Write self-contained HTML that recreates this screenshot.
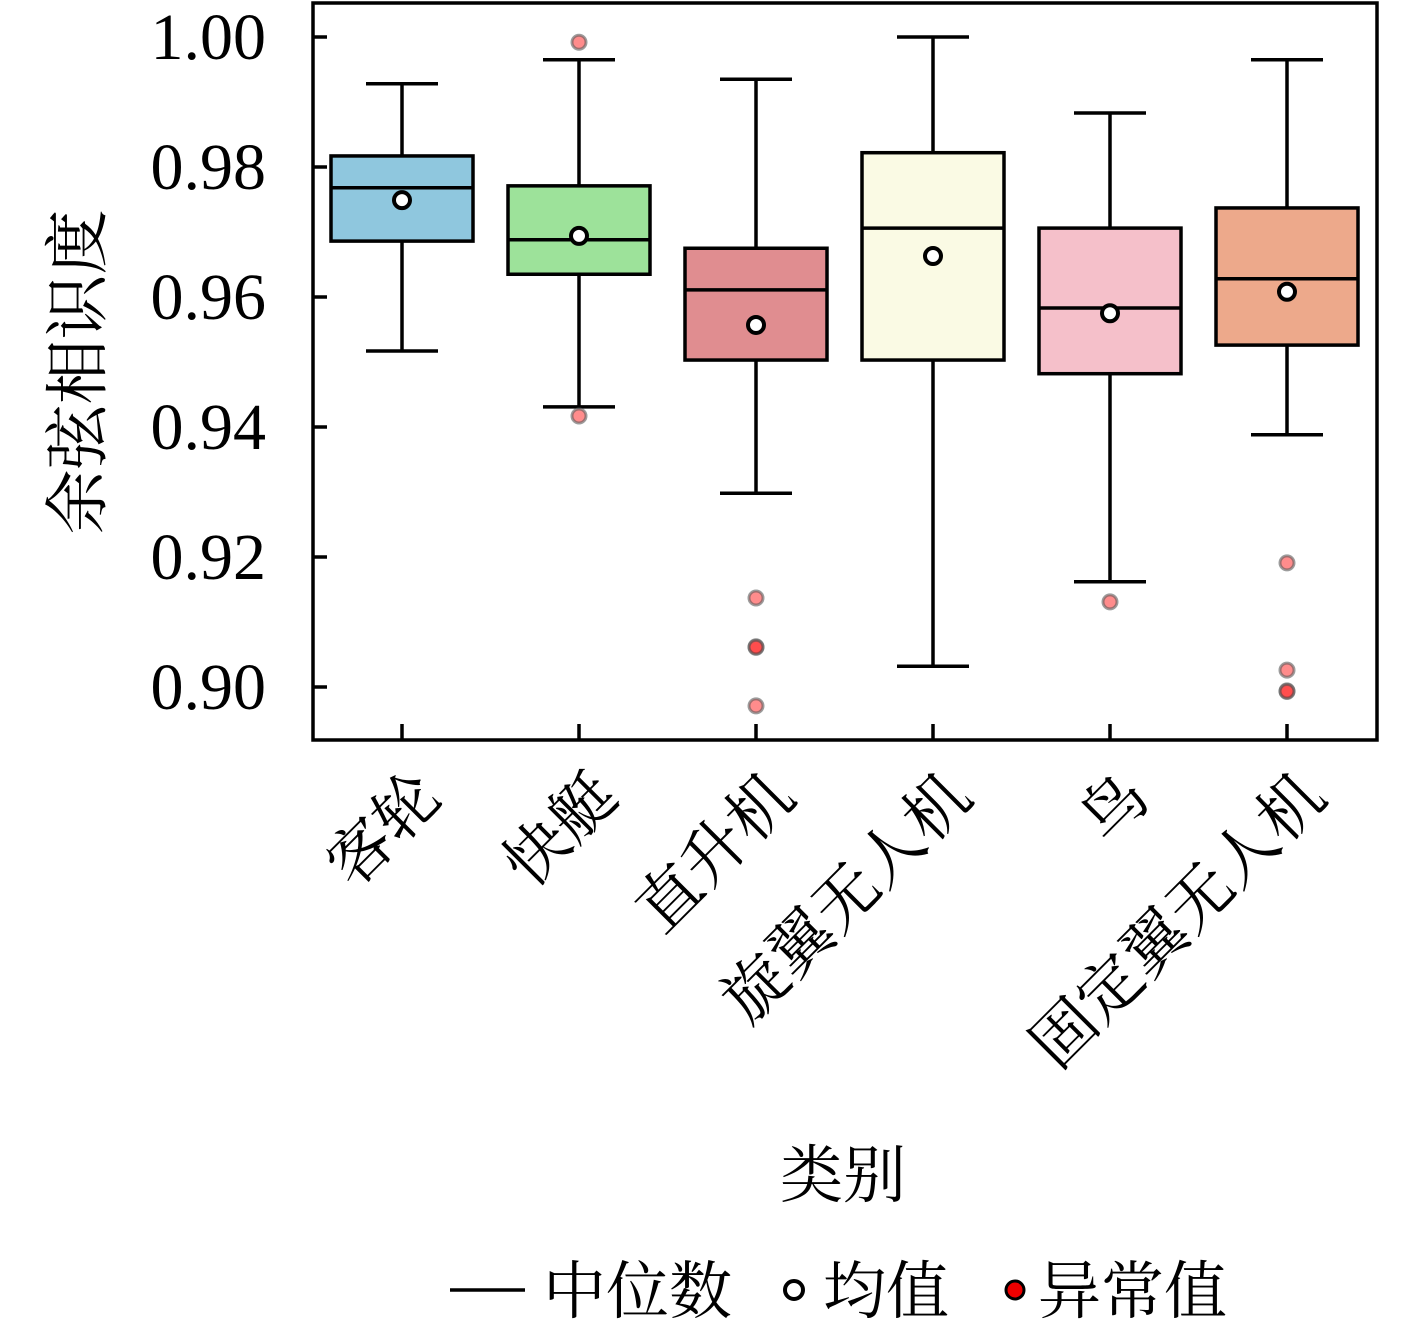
<!DOCTYPE html>
<html><head><meta charset="utf-8"><style>
html,body{margin:0;padding:0;background:#fff;}
svg{display:block;font-family:"Liberation Serif","Noto Serif CJK SC",serif;}
</style></head><body>
<svg id="chart" width="1417" height="1323" viewBox="0 0 1417 1323">
<g id="plot"></g>
</svg>
<script>
const categories=["客轮","快艇","直升机","旋翼无人机","鸟","固定翼无人机"];
const whiskerHigh=[0.9928,0.9965,0.9935,1.0,0.9883,0.9965];
const q3=[0.9817,0.9771,0.9675,0.9822,0.9706,0.9737];
const medians=[0.9768,0.9688,0.9611,0.9706,0.9583,0.9628];
const q1=[0.9686,0.9635,0.9503,0.9503,0.9482,0.9526];
const whiskerLow=[0.9517,0.9431,0.9298,0.9032,0.9162,0.9388];
const means=[0.9749,0.9694,0.9557,0.9663,0.9575,0.9608];
const outliers=[[],[0.9992,0.9417],[0.9137,0.9062,0.9061,0.8971],[],[0.9131],[0.9191,0.9026,0.8994,0.8993]];
const colors=["#8fc7de","#9de29a","#e08d90","#fafae4","#f5c0ca","#eda98b"];
const yTicks=[0.90,0.92,0.94,0.96,0.98,1.00];

const NS="http://www.w3.org/2000/svg";
const g=document.getElementById('plot');
const L=313,R=1377,T=3,B=740;
const y=v=>37+(1-v)*6500;
const x=i=>402+i*177;
const SW=3.5;
function mk(tag,attrs,parent){const e=document.createElementNS(NS,tag);for(const k in attrs)e.setAttribute(k,attrs[k]);(parent||g).appendChild(e);return e;}

let fr=mk('rect',{x:L,y:T,width:R-L,height:B-T,fill:'none',stroke:'#000','stroke-width':SW});



yTicks.forEach(v=>{
  let t=mk('line',{x1:L,x2:L+14,y1:y(v),y2:y(v),stroke:'#000','stroke-width':SW});
  
  
  let tx=mk('text',{x:266,y:y(v)+22,'text-anchor':'end','font-size':66});
  tx.textContent=v.toFixed(2);
  
  
});

categories.forEach((c,i)=>{
  const cx=x(i),hw=71;
  let tk=mk('line',{x1:cx,x2:cx,y1:B,y2:B-16,stroke:'#000','stroke-width':SW});
  
  
  let w1=mk('line',{x1:cx,x2:cx,y1:y(whiskerHigh[i]),y2:y(q3[i]),stroke:'#000','stroke-width':SW});
  
  
  let w2=mk('line',{x1:cx,x2:cx,y1:y(q1[i]),y2:y(whiskerLow[i]),stroke:'#000','stroke-width':SW});
  
  
  let c1=mk('line',{x1:cx-36,x2:cx+36,y1:y(whiskerHigh[i]),y2:y(whiskerHigh[i]),stroke:'#000','stroke-width':SW});
  
  
  let c2=mk('line',{x1:cx-36,x2:cx+36,y1:y(whiskerLow[i]),y2:y(whiskerLow[i]),stroke:'#000','stroke-width':SW});
  
  
  let bx=mk('rect',{x:cx-hw,y:y(q3[i]),width:hw*2,height:y(q1[i])-y(q3[i]),fill:colors[i],stroke:'#000','stroke-width':SW});
  
  
  let md=mk('line',{x1:cx-hw,x2:cx+hw,y1:y(medians[i]),y2:y(medians[i]),stroke:'#000','stroke-width':SW});
  
  
  let mn=mk('circle',{cx:cx,cy:y(means[i]),r:8,fill:'#fff',stroke:'#000','stroke-width':4});
  
  
  outliers[i].forEach(v=>{
    let o=mk('circle',{cx:cx,cy:y(v),r:7,fill:'rgba(255,0,0,0.45)',stroke:'rgba(90,90,90,0.6)','stroke-width':3});
    
    
  });
  let lb=mk('text',{x:cx+42,y:800,'text-anchor':'end','font-size':64,transform:`rotate(-45 ${cx+42} 800)`});
  lb.textContent=c;
  
  
});

let xt=mk('text',{x:843,y:1197,'text-anchor':'middle','font-size':63});
xt.textContent='类别';


let yt=mk('text',{x:100,y:372,'text-anchor':'middle','font-size':65,transform:'rotate(-90 100 372)'});
yt.textContent='余弦相识度';



const lg=mk('g',{});


let ll=mk('line',{x1:450,x2:525,y1:1290,y2:1290,stroke:'#000','stroke-width':SW},lg);


let t1=mk('text',{x:543,y:1313,'font-size':63},lg);t1.textContent='中位数';


let lc=mk('circle',{cx:794,cy:1290,r:9,fill:'#fff',stroke:'#000','stroke-width':4},lg);


let t2=mk('text',{x:823,y:1313,'font-size':63},lg);t2.textContent='均值';


let lo=mk('circle',{cx:1015,cy:1290,r:9,fill:'#e00',stroke:'#000','stroke-width':3},lg);


let t3=mk('text',{x:1038,y:1313,'font-size':63},lg);t3.textContent='异常值';


</script>
</body></html>
